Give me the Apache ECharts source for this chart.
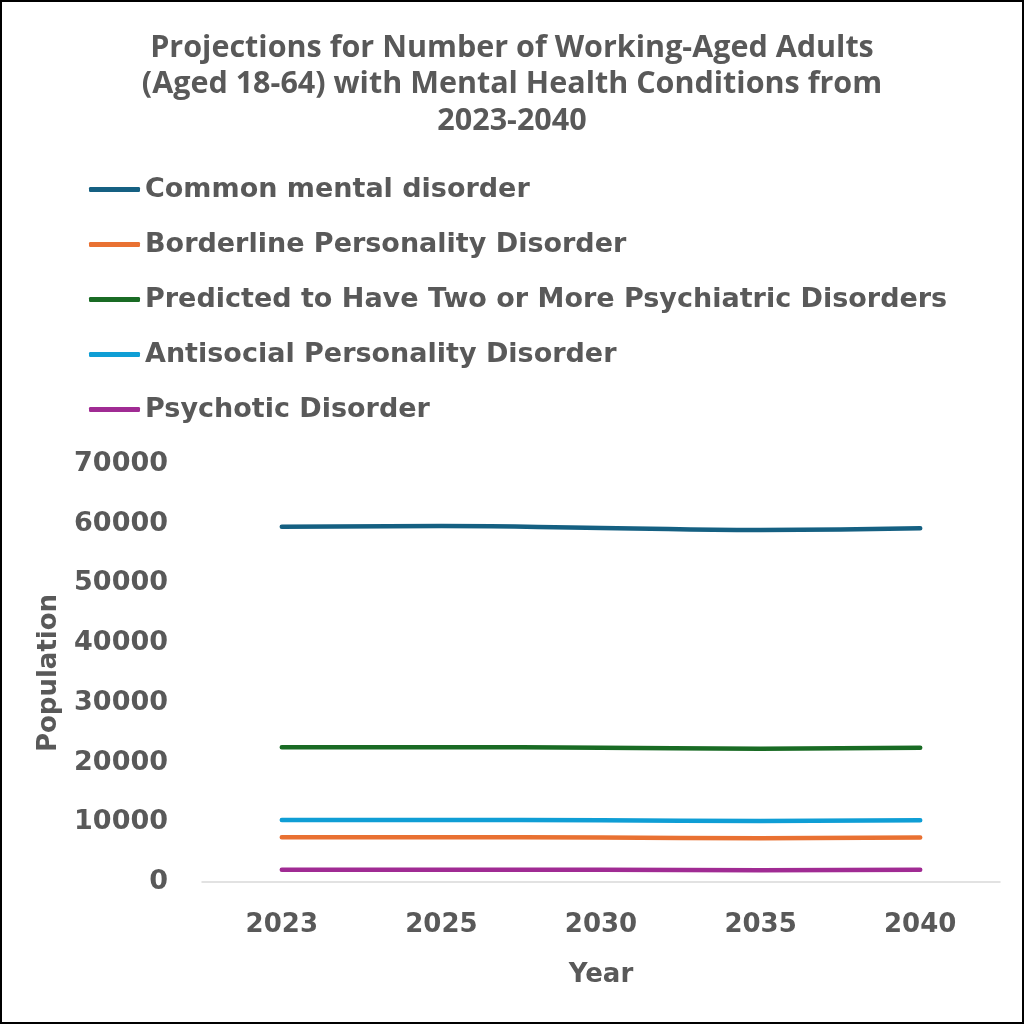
<!DOCTYPE html>
<html>
<head>
<meta charset="utf-8">
<script src="https://cdn.jsdelivr.net/npm/echarts@6/dist/echarts.min.js"></script>
<style>
  html, body { margin: 0; padding: 0; background: #fff; }
  #chart { width: 1020px; height: 1020px; border: 2px solid #000; }
</style>
</head>
<body>
<div id="chart"></div>
<script>
// data
var years = ['2023', '2025', '2030', '2035', '2040'];
var commonMental = [59500, 59600, 59300, 58950, 59250];
var borderline = [7480, 7480, 7450, 7320, 7450];
var twoOrMore = [22560, 22560, 22500, 22330, 22480];
var antisocial = [10380, 10380, 10350, 10220, 10350];
var psychotic = [2060, 2060, 2050, 1960, 2040];

var seriesNames = [
    'Common mental disorder',
    'Borderline Personality Disorder',
    'Predicted to Have Two or More Psychiatric Disorders',
    'Antisocial Personality Disorder',
    'Psychotic Disorder'
];
var seriesData = [commonMental, borderline, twoOrMore, antisocial, psychotic];
var colors = ['#156082', '#E97132', '#196B24', '#0F9ED5', '#A02B93'];

var textColor = '#595959';
var mainFont = '"DejaVu Sans", sans-serif';
var chart = echarts.init(document.getElementById('chart'));

var option = {
    color: colors,
    animation: false,
    title: {
        text: 'Projections for Number of Working-Aged Adults\n(Aged 18-64) with Mental Health Conditions from\n2023-2040',
        left: 'center',
        top: 23,
        textStyle: {
            color: textColor,
            fontFamily: '"Open Sans", sans-serif',
            fontWeight: 'bold',
            fontSize: 30.5,
            lineHeight: 36.5
        }
    },
    legend: {
        orient: 'vertical',
        left: 87,
        top: 172,
        padding: 0,
        icon: 'roundRect',
        itemWidth: 51,
        itemHeight: 5,
        itemGap: 24,
        textStyle: {
            color: textColor,
            fontFamily: mainFont,
            fontWeight: 'bold',
            fontSize: 27,
            lineHeight: 31
        },
        data: seriesNames
    },
    grid: {
        left: 200,
        right: 22,
        top: 462,
        bottom: 140
    },
    xAxis: {
        type: 'category',
        data: years,
        name: 'Year',
        nameLocation: 'middle',
        nameGap: 80,
        nameTextStyle: {
            color: textColor,
            fontFamily: mainFont,
            fontWeight: 'bold',
            fontSize: 26
        },
        axisTick: { show: false },
        axisLine: { lineStyle: { color: '#d9d9d9', width: 1.5 } },
        axisLabel: {
            color: textColor,
            margin: 30,
            fontFamily: mainFont,
            fontWeight: 'bold',
            fontSize: 26
        }
    },
    yAxis: {
        type: 'value',
        min: 0,
        max: 70000,
        interval: 10000,
        name: 'Population',
        nameLocation: 'middle',
        nameGap: 140,
        nameTextStyle: {
            color: textColor,
            fontFamily: mainFont,
            fontWeight: 'bold',
            fontSize: 26
        },
        splitLine: { show: false },
        axisLine: { show: false },
        axisTick: { show: false },
        axisLabel: {
            color: textColor,
            margin: 34,
            fontFamily: mainFont,
            fontWeight: 'bold',
            fontSize: 27,
            formatter: function (v) { return String(v); }
        }
    },
    series: seriesNames.map(function (name, i) {
        return {
            name: name,
            type: 'line',
            data: seriesData[i],
            smooth: true,
            showSymbol: false,
            symbol: 'none',
            lineStyle: { width: 4.5, color: colors[i], cap: 'round' }
        };
    })
};

chart.setOption(option);
</script>
</body>
</html>
